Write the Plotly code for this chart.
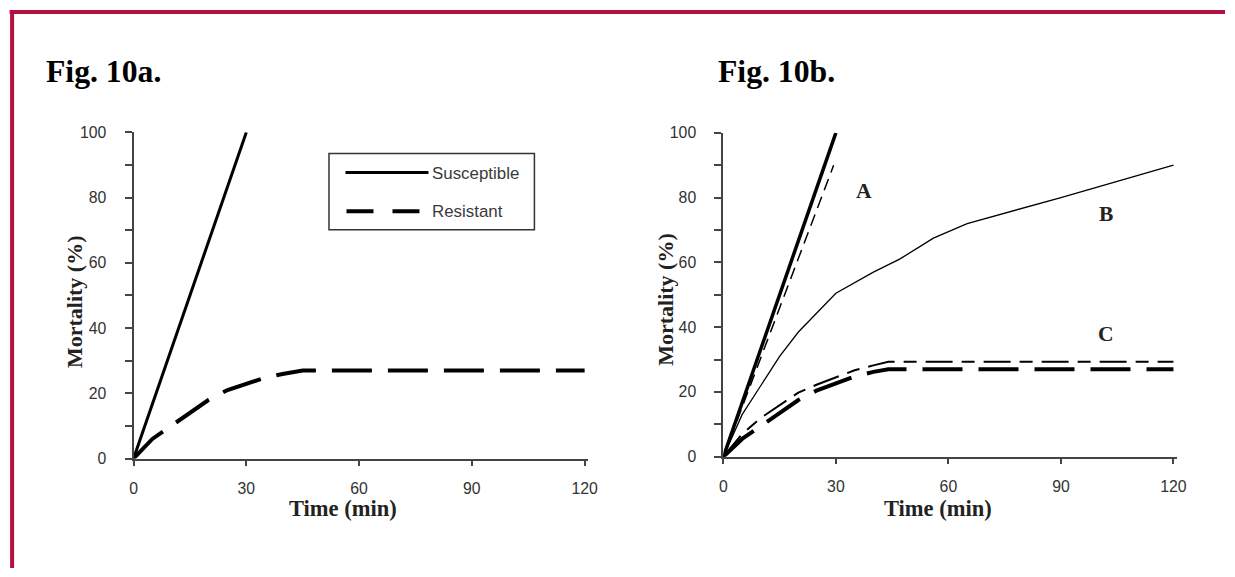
import plotly.graph_objects as go

W, H = 1235, 577

# ---------------- data ----------------
# Fig. 10a
time_susc = [0, 30]
mort_susc = [0, 100]
time_res = [0, 5, 10, 15, 20, 25, 30, 35, 40, 45, 60, 90, 120]
mort_res = [0, 6, 10, 14, 18, 21, 23, 24.8, 26, 27, 27, 27, 27]

# Fig. 10b
time_A_solid = [0, 30]
mort_A_solid = [0, 100]
time_A_dash = [0, 29.4]
mort_A_dash = [0, 90]
time_B = [0, 5, 10, 15, 20, 30, 40, 47, 56, 65, 90, 120]
mort_B = [0, 13, 22, 31, 38.5, 50.5, 57, 61, 67.5, 72, 80, 90]
time_C = [0, 5, 10, 15, 20, 25, 30, 35, 40, 44, 120]
mort_C_thin = [0, 7, 12, 16, 19.8, 22.3, 24.5, 26.7, 28.2, 29.3, 29.3]
mort_C_thick = [0, 5.5, 9.5, 13.5, 17.5, 20.5, 22.8, 24.8, 26.2, 27, 27]

x_ticks = [0, 30, 60, 90, 120]
y_ticks = [0, 20, 40, 60, 80, 100]
legend_names = ["Susceptible", "Resistant"]
curve_labels = [("A", 37.6, 82), ("B", 101.9, 75), ("C", 101.9, 38)]

# ---------------- helpers ----------------
# The photographed page shows the figure slightly inset and scaled; these
# constants map a wanted picture pixel back to a figure pixel.
AX, BX = 0.989, 3.4
AY, BY = 0.967, 8.6
FS = 2.0 / (AX + AY)   # font compensation


def xp(px):
    return ((px - BX) / AX) / W


def yp(py):
    return 1 - ((py - BY) / AY) / H


def fs(size):
    return round(size * FS, 1)


SERIF = "Liberation Serif"
SANS = "Liberation Sans"
AXC = "#444444"
TXT = "#333333"

fig = go.Figure()

# Panel a
fig.add_trace(go.Scatter(x=time_susc, y=mort_susc, mode="lines", name=legend_names[0],
                         line=dict(color="black", width=3), xaxis="x", yaxis="y"))
fig.add_trace(go.Scatter(x=time_res, y=mort_res, mode="lines", name=legend_names[1],
                         line=dict(color="black", width=4, dash="40px,16px"), xaxis="x", yaxis="y"))

# Panel b
fig.add_trace(go.Scatter(x=time_A_solid, y=mort_A_solid, mode="lines",
                         line=dict(color="black", width=3.5), xaxis="x2", yaxis="y2"))
fig.add_trace(go.Scatter(x=time_A_dash, y=mort_A_dash, mode="lines",
                         line=dict(color="black", width=1.5, dash="12px,7px"), xaxis="x2", yaxis="y2"))
fig.add_trace(go.Scatter(x=time_B, y=mort_B, mode="lines",
                         line=dict(color="black", width=1.3), xaxis="x2", yaxis="y2"))
fig.add_trace(go.Scatter(x=time_C, y=mort_C_thin, mode="lines",
                         line=dict(color="black", width=2, dash="27px,9px,13px,9px"), xaxis="x2", yaxis="y2"))
fig.add_trace(go.Scatter(x=time_C, y=mort_C_thick, mode="lines",
                         line=dict(color="black", width=4, dash="40px,16px"), xaxis="x2", yaxis="y2"))

xaxis_common = dict(range=[0, 121], tickvals=x_ticks, showline=True, linecolor=AXC, linewidth=2,
                    ticks="outside", ticklen=5, tickwidth=2, tickcolor=AXC, showgrid=False,
                    zeroline=False, tickfont=dict(family=SANS, size=fs(15.5), color=TXT),
                    ticklabelstandoff=9, fixedrange=True)
yaxis_common = dict(range=[0, 100], tickvals=y_ticks, showline=True, linecolor=AXC, linewidth=2,
                    ticks="outside", ticklen=7, tickwidth=1.5, tickcolor=AXC, showgrid=False,
                    zeroline=False, tickfont=dict(family=SANS, size=fs(15.5), color=TXT),
                    minor=dict(dtick=10, tick0=0, ticks="outside", ticklen=7, tickwidth=1.5, tickcolor=AXC),
                    ticklabelstandoff=15, fixedrange=True)

fig.update_layout(
    width=W, height=H, autosize=False,
    margin=dict(l=0, r=0, t=0, b=0),
    paper_bgcolor="white", plot_bgcolor="white",
    showlegend=False,
    xaxis=dict(domain=[xp(133), xp(588)], anchor="y", **xaxis_common),
    yaxis=dict(domain=[yp(457.5), yp(132.5)], anchor="x", **yaxis_common),
    xaxis2=dict(domain=[xp(723), xp(1177)], anchor="y2", **xaxis_common),
    yaxis2=dict(domain=[yp(455.7), yp(133)], anchor="x2", **yaxis_common),
)

annotations = []
# figure titles
annotations.append(dict(text="<b>Fig. 10a.</b>", x=xp(43), y=yp(72), xref="paper", yref="paper",
                        xanchor="left", yanchor="middle", showarrow=False,
                        font=dict(family=SERIF, size=fs(31), color="black")))
annotations.append(dict(text="<b>Fig. 10b.</b>", x=xp(716), y=yp(72), xref="paper", yref="paper",
                        xanchor="left", yanchor="middle", showarrow=False,
                        font=dict(family=SERIF, size=fs(31), color="black")))
# axis titles
for cx in (343, 938):
    annotations.append(dict(text="<b>Time (min)</b>", x=xp(cx), y=yp(507), xref="paper", yref="paper",
                            xanchor="center", yanchor="middle", showarrow=False,
                            font=dict(family=SERIF, size=fs(22), color="#222222")))
for cx, cy in ((74, 301), (665, 299)):
    annotations.append(dict(text="<b>Mortality (%)</b>", x=xp(cx), y=yp(cy), xref="paper", yref="paper",
                            xanchor="center", yanchor="middle", showarrow=False, textangle=-90,
                            font=dict(family=SERIF, size=fs(21.5), color="#222222")))
# curve labels in panel b
for lab, lx, ly in curve_labels:
    annotations.append(dict(text="<b>%s</b>" % lab, x=lx, y=ly, xref="x2", yref="y2",
                            xanchor="center", yanchor="middle", showarrow=False,
                            font=dict(family=SERIF, size=fs(21), color="#222222")))
# legend text (panel a)
for name, ly in zip(legend_names, (173, 211)):
    annotations.append(dict(text=name, x=xp(430), y=yp(ly), xref="paper", yref="paper",
                            xanchor="left", yanchor="middle", showarrow=False,
                            font=dict(family=SANS, size=fs(16.5), color="#3a3a3a")))

shapes = []
# legend box and samples
shapes.append(dict(type="rect", xref="paper", yref="paper", x0=xp(328.5), x1=xp(534),
                   y0=yp(229.5), y1=yp(153.5), line=dict(color="#333333", width=1.5),
                   fillcolor="rgba(0,0,0,0)"))
shapes.append(dict(type="line", xref="paper", yref="paper", x0=xp(345), x1=xp(428),
                   y0=yp(172.5), y1=yp(172.5), line=dict(color="black", width=3)))
shapes.append(dict(type="line", xref="paper", yref="paper", x0=xp(346), x1=xp(419),
                   y0=yp(211), y1=yp(211), line=dict(color="black", width=4, dash="27px,19px")))
# crimson frame
FRAME = "#B2123D"
shapes.append(dict(type="line", xref="paper", yref="paper", x0=xp(9), x1=1,
                   y0=yp(12.5), y1=yp(12.5), line=dict(color=FRAME, width=4)))
shapes.append(dict(type="line", xref="paper", yref="paper", x0=xp(11.5), x1=xp(11.5),
                   y0=yp(10.5), y1=0, line=dict(color=FRAME, width=4)))

fig.update_layout(annotations=annotations, shapes=shapes)

fig.write_html("out.html")
